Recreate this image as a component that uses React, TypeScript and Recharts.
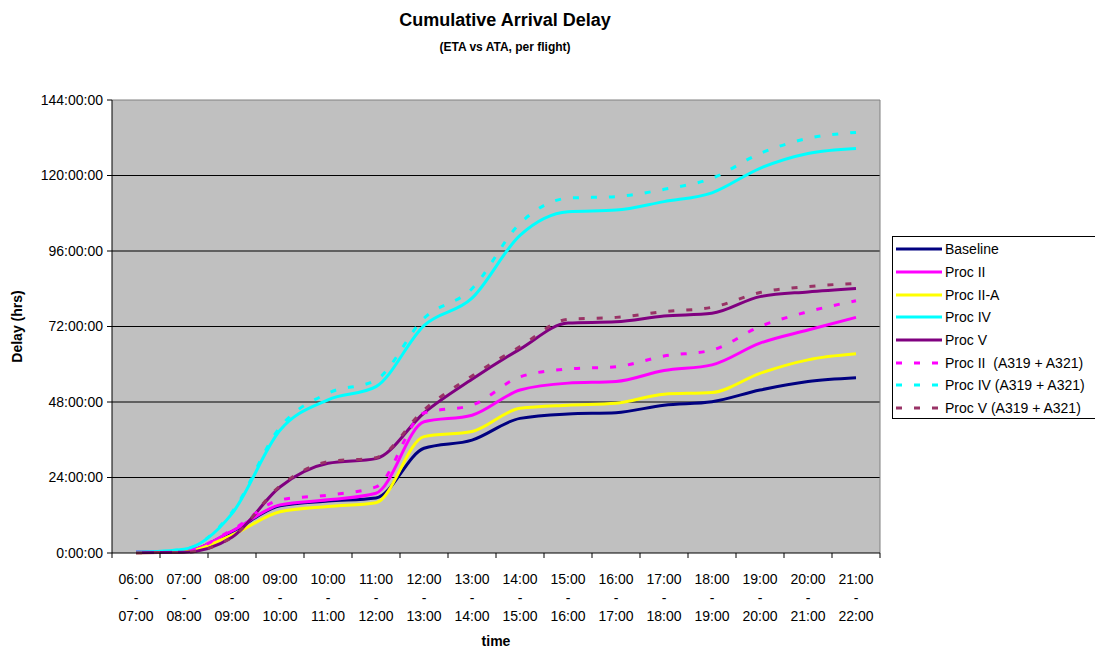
import React from 'react';
import { LineChart, Line, XAxis, YAxis, CartesianGrid, Legend, ReferenceLine } from 'recharts';

// hourly slots (start / end of each bin)
const slotStarts = ['06:00', '07:00', '08:00', '09:00', '10:00', '11:00', '12:00', '13:00', '14:00', '15:00', '16:00', '17:00', '18:00', '19:00', '20:00', '21:00'];
const slotEnds = ['07:00', '08:00', '09:00', '10:00', '11:00', '12:00', '13:00', '14:00', '15:00', '16:00', '17:00', '18:00', '19:00', '20:00', '21:00', '22:00'];

// cumulative delay, hours
const baseline = [0.2, 0.5, 6.8, 15, 16.5, 17.5, 33.3, 35.9, 42.8, 44.2, 44.6, 47, 48.1, 51.8, 54.5, 55.7];
const procII = [0.2, 0.5, 7, 15.3, 16.9, 19, 41.7, 43.8, 51.8, 54, 54.5, 58, 59.8, 66.7, 70.9, 74.9];
const procIIA = [0.1, 0.4, 5.7, 13.1, 14.8, 16, 37, 38.6, 46, 47, 47.6, 50.5, 51, 57.1, 61.4, 63.3];
const procIV = [0.2, 1.2, 12.5, 39, 48.7, 52.9, 72.3, 81, 101, 108.5, 109, 111.7, 114.5, 122.3, 127, 128.6];
const procV = [0.1, 0.2, 5, 21, 28.5, 30, 44.5, 55.2, 64.8, 73.1, 73.5, 75.3, 76.2, 81.5, 83, 84.1];
const procIIMix = [0.2, 0.6, 7.3, 16.9, 18.4, 21, 44.5, 47, 56, 58.5, 59.2, 62.6, 64.5, 72, 76.7, 80.2];
const procIVMix = [0.2, 1.2, 13, 40, 50.8, 55, 74.6, 84, 104.8, 112.8, 113.3, 115.6, 119.1, 127, 131.8, 133.7];
const procVMix = [0.1, 0.2, 5, 21.3, 29, 30.3, 45.5, 56.3, 65.6, 74.3, 74.9, 76.7, 78.1, 82.8, 84.7, 85.7];

const yTicks = [0, 24, 48, 72, 96, 120, 144];

const series = [
  { key: 'baseline', name: 'Baseline', values: baseline, color: '#000080', dash: undefined },
  { key: 'procII', name: 'Proc II', values: procII, color: '#FF00FF', dash: undefined },
  { key: 'procIIA', name: 'Proc II-A', values: procIIA, color: '#FFFF00', dash: undefined },
  { key: 'procIV', name: 'Proc IV', values: procIV, color: '#00FFFF', dash: undefined },
  { key: 'procV', name: 'Proc V', values: procV, color: '#800080', dash: undefined },
  { key: 'procIIMix', name: 'Proc II  (A319 + A321)', values: procIIMix, color: '#FF00FF', dash: '6 12' },
  { key: 'procIVMix', name: 'Proc IV (A319 + A321)', values: procIVMix, color: '#00FFFF', dash: '6 12' },
  { key: 'procVMix', name: 'Proc V (A319 + A321)', values: procVMix, color: '#993366', dash: '6 12' },
];

const data = slotStarts.map((s, i) => {
  const row: Record<string, number | string> = { pos: i + 0.5, slot: s };
  series.forEach((se) => { row[se.key] = se.values[i]; });
  return row;
});

const boundaries = slotStarts.map((_, i) => i).concat(slotStarts.length);

const FONT = '"Liberation Sans", Arial, sans-serif';
const W = 1095;
const H = 649;

const SlotTick = (props: any) => {
  const { x, y, payload } = props;
  const i = payload.value;
  if (i >= slotStarts.length) return null;
  const cx = x + 24; // centre of the hour bin
  return (
    <text x={cx} y={y + 24} textAnchor="middle" fontSize={14} fontFamily={FONT} fill="#000">
      <tspan x={cx}>{slotStarts[i]}</tspan>
      <tspan x={cx} dy={18.5}>-</tspan>
      <tspan x={cx} dy={18.5}>{slotEnds[i]}</tspan>
    </text>
  );
};

// keep the legend in series order (recharts sorts its payload by name)
const renderLegend = () => (
  <div style={{ width: 215, height: 183, border: '1px solid #000', background: '#fff', boxSizing: 'border-box', paddingTop: 1, paddingLeft: 3 }}>
    {series.map((s) => (
      <div key={s.key} style={{ height: 22.7, display: 'flex', alignItems: 'center', fontFamily: FONT, fontSize: 14, color: '#000', whiteSpace: 'pre' }}>
        <svg width={46} height={6} style={{ marginRight: 3 }}>
          <line x1={0} y1={3} x2={46} y2={3} stroke={s.color} strokeWidth={3} strokeDasharray={s.dash} />
        </svg>
        <span>{s.name}</span>
      </div>
    ))}
  </div>
);

const App: React.FC = () => {
  return (
    <div style={{ position: 'absolute', left: 0, top: 0, width: W, height: H, overflow: 'hidden', background: '#fff' }}>
      <div style={{ position: 'absolute', left: 0, top: 11, width: 1010, textAlign: 'center', fontFamily: FONT, fontWeight: 'bold', fontSize: 18, lineHeight: '18px' }}>
        Cumulative Arrival Delay
      </div>
      <div style={{ position: 'absolute', left: 0, top: 41, width: 1010, textAlign: 'center', fontFamily: FONT, fontWeight: 'bold', fontSize: 12, lineHeight: '12px' }}>
        (ETA vs ATA, per flight)
      </div>
      <LineChart width={W} height={H} data={data} margin={{ top: 100, right: 215, bottom: 0, left: 0 }}>
        <CartesianGrid fill="#C0C0C0" stroke="#000" vertical={false} horizontalValues={[24, 48, 72, 96, 120]} />
        <ReferenceLine y={144} stroke="#808080" />
        <ReferenceLine x={slotStarts.length} stroke="#808080" />
        <XAxis
          dataKey="pos"
          type="number"
          domain={[0, slotStarts.length]}
          ticks={boundaries}
          interval={0}
          height={96}
          tickSize={5}
          tickMargin={2}
          stroke="#000"
          tick={<SlotTick />}
          label={{
            content: () => (
              <text x={496} y={646} textAnchor="middle" fontSize={14} fontWeight="bold" fontFamily={FONT} fill="#000">time</text>
            ),
          }}
        />
        <YAxis
          domain={[0, 144]}
          ticks={yTicks}
          interval={0}
          width={112}
          tickSize={5}
          tickMargin={4}
          stroke="#000"
          tick={{ fontSize: 14, fontFamily: FONT, fill: '#000' }}
          tickFormatter={(v: number) => `${v}:00:00`}
          label={{
            content: () => (
              <text x={22} y={326.5} transform="rotate(-90 22 326.5)" textAnchor="middle" fontSize={14} fontWeight="bold" fontFamily={FONT} fill="#000">Delay (hrs)</text>
            ),
          }}
        />
        <Legend
          layout="vertical"
          align="center"
          verticalAlign="middle"
          wrapperStyle={{ left: 892, top: 236, width: 215, height: 183 }}
          content={renderLegend}
        />
        {series.map((s) => (
          <Line
            key={s.key}
            dataKey={s.key}
            name={s.name}
            type="monotone"
            stroke={s.color}
            strokeWidth={3}
            strokeDasharray={s.dash}
            dot={false}
            activeDot={false}
            isAnimationActive={false}
          />
        ))}
      </LineChart>
    </div>
  );
};

export default App;
